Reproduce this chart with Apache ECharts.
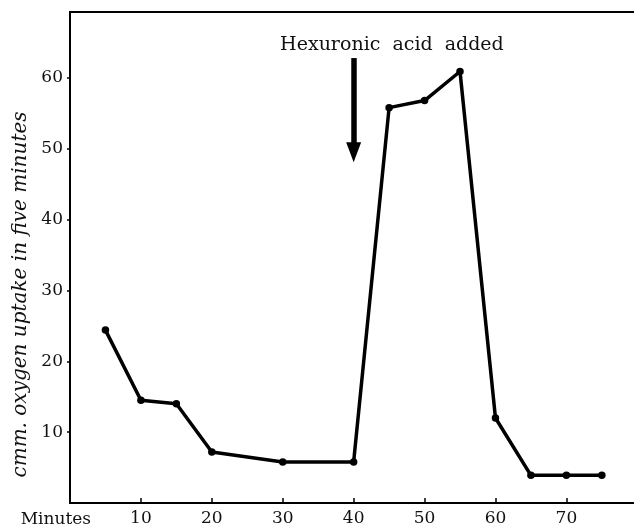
<!DOCTYPE html>
<html>
<head>
<meta charset="utf-8">
<script src="https://cdn.jsdelivr.net/npm/echarts@6/dist/echarts.min.js"></script>
<style>html,body{margin:0;padding:0;background:#fff}#c{width:634px;height:526px}</style>
</head>
<body>
<div id="c"></div>
<script>
var minutes = [5, 10, 15, 20, 30, 40, 45, 50, 55, 60, 65, 70, 75];
var uptake = [24.4, 14.5, 14.0, 7.2, 5.8, 5.8, 55.8, 56.8, 60.9, 12.0, 3.9, 3.9, 3.9];
var xTicks = [10, 20, 30, 40, 50, 60, 70];
var yTicks = [10, 20, 30, 40, 50, 60];
var annotationText = 'Hexuronic  acid  added';
var annotationAt = [45.4, 64.6];
var arrowFrom = [40, 62.8];
var arrowTo = [40, 49.5];

var font = 'DejaVu Serif';
var data = minutes.map(function (m, i) { return [m, uptake[i]]; });

var chart = echarts.init(document.getElementById('c'), null, {renderer: 'canvas'});
chart.setOption({
  backgroundColor: '#fff',
  animation: false,
  grid: {left: 70, right: -4, top: 12, bottom: 23, show: true, borderColor: '#000', borderWidth: 2,
         containLabel: false, outerBoundsMode: 'none'},
  xAxis: {
    type: 'value', min: 0, max: 80.1, interval: 10,
    name: 'Minutes', nameLocation: 'start', nameGap: -21,
    nameTextStyle: {fontFamily: font, fontSize: 17, color: '#111', verticalAlign: 'top', padding: [8, 0, 0, 0]},
    axisLine: {show: true, lineStyle: {color: '#000', width: 2}},
    axisTick: {show: true, inside: true, length: 5, lineStyle: {color: '#000', width: 1.5}},
    axisLabel: {
      fontFamily: font, fontSize: 17, color: '#111', margin: 7,
      showMinLabel: false, showMaxLabel: false,
      formatter: function (v) { return xTicks.indexOf(v) >= 0 ? String(v) : ''; }
    },
    splitLine: {show: false}
  },
  yAxis: {
    type: 'value', min: 0, max: 69.3, interval: 10,
    name: 'cmm. oxygen uptake in five minutes', nameLocation: 'middle', nameGap: 35, nameRotate: 90,
    nameTextStyle: {fontFamily: font, fontStyle: 'italic', fontSize: 20, color: '#111', padding: [0, 74, 0, 0]},
    axisLine: {show: true, lineStyle: {color: '#000', width: 2}},
    axisTick: {show: true, inside: false, length: 3, lineStyle: {color: '#000', width: 1.5}},
    axisLabel: {
      fontFamily: font, fontSize: 17, color: '#111', margin: 7,
      showMinLabel: false, showMaxLabel: false,
      formatter: function (v) { return yTicks.indexOf(v) >= 0 ? String(v) : ''; }
    },
    splitLine: {show: false}
  },
  series: [{
    type: 'line',
    data: data,
    symbol: 'circle', symbolSize: 7.5,
    lineStyle: {color: '#000', width: 3.5},
    itemStyle: {color: '#000'},
    markPoint: {
      symbol: 'circle', symbolSize: 0,
      label: {show: true, position: 'inside', formatter: annotationText, fontFamily: font, fontSize: 19, color: '#111'},
      data: [{coord: annotationAt}]
    },
    markLine: {
      silent: true,
      symbol: ['none', 'triangle'], symbolSize: [15, 20],
      lineStyle: {color: '#000', width: 5.5, type: 'solid'},
      label: {show: false},
      data: [[{coord: arrowFrom}, {coord: arrowTo}]]
    }
  }]
});
</script>
</body>
</html>
